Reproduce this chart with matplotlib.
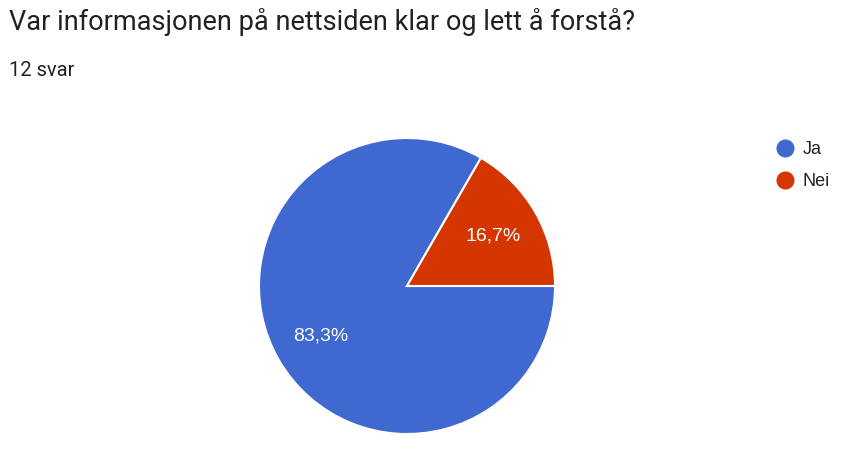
import matplotlib.pyplot as plt
from matplotlib.lines import Line2D

labels = ["Ja", "Nei"]
counts = [10, 2]
colors = ["#3f69d1", "#d53600"]
title = "Var informasjonen på nettsiden klar og lett å forstå?"
subtitle = "12 svar"

W, H = 849, 451
fig = plt.figure(figsize=(W / 100, H / 100), dpi=100)

# pie axes: center (407, 286), radius ~148 px
cx, cy, r = 407, 286, 148
ax = fig.add_axes([(cx - r) / W, 1 - (cy + r) / H, 2 * r / W, 2 * r / H])

wedges, texts, autotexts = ax.pie(
    counts,
    colors=colors,
    startangle=60,
    counterclock=True,
    radius=1,
    autopct=lambda p: f"{p:.1f}%".replace(".", ","),
    pctdistance=0.67,
    wedgeprops=dict(edgecolor="white", linewidth=1.5),
    textprops=dict(color="white", fontsize=14, family="Liberation Sans"),
)
ax.set_xlim(-1, 1)
ax.set_ylim(-1, 1)
ax.set_aspect("equal")

fig.text(9 / W, 1 - 22 / H, title, fontsize=19.5, family="Roboto",
         color="#202124", va="center", ha="left")
fig.text(9 / W, 1 - 70 / H, subtitle, fontsize=14.5, family="Roboto",
         color="#202124", va="center", ha="left")

handles = [Line2D([], [], marker="o", linestyle="", markersize=12,
                  markerfacecolor=c, markeredgecolor=c) for c in colors]
fig.legend(handles, labels, loc="upper left",
           bbox_to_anchor=(765 / W, 1 - 132 / H), frameon=False,
           prop=dict(family="Liberation Sans", size=13),
           labelcolor="#222222", handletextpad=0.4, labelspacing=0.85,
           handlelength=1.2, borderpad=0)

fig.savefig("out.png", dpi=100)
